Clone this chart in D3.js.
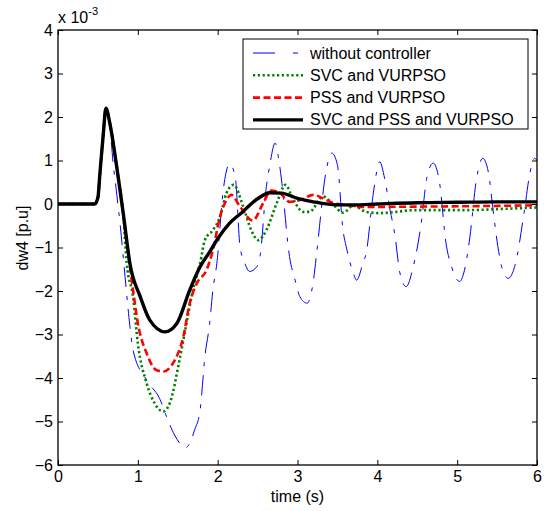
<!DOCTYPE html>
<html>
<head>
<meta charset="utf-8">
<script src="https://cdn.jsdelivr.net/npm/d3@7"></script>
<style>
  body { margin: 0; background: #fff; }
  svg { display: block; font-family: "Liberation Sans", Arial, sans-serif; }
</style>
</head>
<body>
<svg id="chart" width="545" height="511"></svg>
<script>
// tick values
var xTicks = [0, 1, 2, 3, 4, 5, 6];
var yTicks = [-6, -5, -4, -3, -2, -1, 0, 1, 2, 3, 4];

// without controller (values in 1e-3 p.u.)
var tNone = [0, 0.46, 0.5, 0.525, 0.567, 0.6, 0.65, 0.69, 0.73, 0.78, 0.84, 0.9, 0.94, 1.11, 1.28, 1.36, 1.46, 1.6, 1.65, 1.71, 1.78, 1.84, 1.9, 1.94, 1.99, 2.07, 2.15, 2.22, 2.28, 2.34, 2.4, 2.49, 2.53, 2.61, 2.65, 2.72, 2.76, 2.8, 2.9, 2.97, 3.03, 3.12, 3.2, 3.24, 3.36, 3.43, 3.5, 3.57, 3.61, 3.7, 3.74, 3.82, 3.86, 3.95, 4.03, 4.09, 4.16, 4.22, 4.28, 4.36, 4.45, 4.55, 4.62, 4.7, 4.78, 4.86, 4.93, 5.03, 5.11, 5.16, 5.24, 5.32, 5.39, 5.45, 5.51, 5.57, 5.64, 5.72, 5.84, 5.91, 5.97, 6.0];
var vNone = [0, 0, 0.15, 0.7, 1.6, 2.2, 1.8, 0.94, 0.32, -0.5, -1.67, -2.8, -3.36, -4.05, -4.5, -4.89, -5.31, -5.6, -5.5, -5.2, -4.74, -3.51, -2.74, -1.98, -1.36, 0.32, 0.92, 0.63, -0.98, -1.36, -1.55, -1.44, -1.21, 0.4, 0.86, 1.4, 1.09, 0.55, -1.21, -1.75, -2.13, -2.28, -1.75, -1.13, 0.78, 1.17, 0.9, -0.6, -0.98, -1.59, -1.75, -1.36, -1.13, 0.25, 0.97, 0.6, -0.14, -0.71, -1.56, -1.9, -1.44, -0.44, 0.6, 0.94, 0.48, -0.9, -1.44, -1.78, -1.36, -0.75, 0.55, 1.05, 0.74, -0.14, -0.98, -1.52, -1.71, -1.44, -0.18, 0.7, 1.05, 1.0];

// SVC and VURPSO
var tSvc = [0, 0.46, 0.5, 0.525, 0.567, 0.6, 0.65, 0.735, 0.82, 0.86, 0.94, 1.0, 1.11, 1.21, 1.32, 1.4, 1.53, 1.61, 1.69, 1.78, 1.84, 1.94, 2.03, 2.11, 2.2, 2.32, 2.42, 2.51, 2.61, 2.74, 2.85, 2.94, 3.07, 3.15, 3.32, 3.45, 3.57, 3.7, 3.86, 4.03, 4.49, 5.11, 5.6, 6.0];
var vSvc = [0, 0, 0.15, 0.7, 1.6, 2.2, 1.85, 0.86, -0.3, -1.36, -2.13, -3.2, -4.12, -4.58, -4.77, -4.58, -3.51, -2.74, -1.98, -1.36, -0.83, -0.6, -0.29, 0.25, 0.44, -0.06, -0.6, -0.83, -0.6, 0.02, 0.44, 0.13, -0.18, -0.18, 0.17, -0.02, -0.2, -0.04, -0.18, -0.21, -0.14, -0.14, -0.11, -0.08];

// PSS and VURPSO
var tPss = [0, 0.46, 0.5, 0.525, 0.567, 0.6, 0.65, 0.735, 0.82, 0.94, 1.0, 1.11, 1.235, 1.32, 1.44, 1.57, 1.65, 1.74, 1.86, 1.94, 2.03, 2.11, 2.17, 2.28, 2.44, 2.57, 2.67, 2.78, 2.9, 3.03, 3.2, 3.32, 3.45, 3.61, 3.8, 4.5, 5.2, 6.0];
var vPss = [0, 0, 0.15, 0.7, 1.6, 2.2, 1.85, 0.86, -0.28, -1.98, -2.74, -3.43, -3.82, -3.85, -3.66, -3.05, -2.28, -1.82, -1.52, -1.06, -0.29, 0.09, 0.21, -0.06, -0.38, 0.02, 0.31, 0.25, 0.05, 0.09, 0.21, 0.13, 0.02, -0.02, -0.07, -0.06, -0.05, -0.03];

// SVC and PSS and VURPSO
var tAll = [0, 0.46, 0.5, 0.525, 0.567, 0.6, 0.65, 0.735, 0.82, 0.9, 1.03, 1.15, 1.34, 1.49, 1.65, 1.78, 1.9, 2.0, 2.15, 2.3, 2.5, 2.65, 2.8, 3.0, 3.2, 3.5, 3.7, 4.0, 4.5, 5.0, 5.5, 6.0];
var vAll = [0, 0, 0.15, 0.7, 1.6, 2.2, 1.85, 0.86, -0.25, -1.36, -2.13, -2.67, -2.94, -2.74, -1.98, -1.44, -1.1, -0.8, -0.44, -0.2, 0.12, 0.26, 0.25, 0.13, 0.05, -0.02, -0.02, 0.0, 0.03, 0.04, 0.05, 0.05];

var legendNames = ['without controller', 'SVC and VURPSO', 'PSS and VURPSO', 'SVC and PSS and VURPSO'];

var series = [
  {name: legendNames[0], t: tNone, v: vNone, color: '#0000ff', width: 1, dash: '20,9,4,9', legendDash: '22,18,5,30'},
  {name: legendNames[1], t: tSvc, v: vSvc, color: '#008000', width: 2.6, dash: '2.2,2.6'},
  {name: legendNames[2], t: tPss, v: vPss, color: '#ff0000', width: 2.6, dash: '7,3.5'},
  {name: legendNames[3], t: tAll, v: vAll, color: '#000000', width: 3.4, dash: null}
];

var svg = d3.select('#chart');
var pLeft = 58, pRight = 537, pTop = 30, pBottom = 465;

var x = d3.scaleLinear().domain([0, 6]).range([pLeft, pRight]);
var y = d3.scaleLinear().domain([-6, 4]).range([pBottom, pTop]);

svg.append('defs').append('clipPath').attr('id', 'clip')
  .append('rect').attr('x', pLeft).attr('y', pTop).attr('width', pRight - pLeft).attr('height', pBottom - pTop);

// curves
var line = d3.line().x(function(d){ return x(d[0]); }).y(function(d){ return y(d[1]); }).curve(d3.curveMonotoneX);
var plot = svg.append('g').attr('clip-path', 'url(#clip)');
series.forEach(function(s){
  var pts = s.t.map(function(t, i){ return [t, s.v[i]]; });
  plot.append('path')
    .attr('d', line(pts))
    .attr('fill', 'none')
    .attr('stroke', s.color)
    .attr('stroke-width', s.width)
    .attr('stroke-dasharray', s.dash)
    .attr('stroke-linejoin', 'round');
});

// axes (ticks inside, box on)
var fs = '16px';
function styleText(g){
  g.select('.domain').remove();
  g.selectAll('text').attr('font-size', fs).attr('font-family', null).attr('fill', '#000');
  g.selectAll('line').attr('stroke', '#000');
}
svg.append('g').attr('transform', 'translate(0,' + pBottom + ')')
  .call(d3.axisBottom(x).tickValues(xTicks).tickSizeInner(-5).tickSizeOuter(0).tickPadding(6).tickFormat(d3.format('d')))
  .call(styleText);
svg.append('g').attr('transform', 'translate(0,' + pTop + ')')
  .call(d3.axisTop(x).tickValues(xTicks).tickSizeInner(-5).tickSizeOuter(0).tickFormat(''))
  .call(styleText);
svg.append('g').attr('transform', 'translate(' + pLeft + ',0)')
  .call(d3.axisLeft(y).tickValues(yTicks).tickSizeInner(-5).tickSizeOuter(0).tickPadding(5).tickFormat(d3.format('d')))
  .call(styleText);
svg.append('g').attr('transform', 'translate(' + pRight + ',0)')
  .call(d3.axisRight(y).tickValues(yTicks).tickSizeInner(-5).tickSizeOuter(0).tickFormat(''))
  .call(styleText);

svg.append('rect')
  .attr('x', pLeft).attr('y', pTop).attr('width', pRight - pLeft).attr('height', pBottom - pTop)
  .attr('fill', 'none').attr('stroke', '#000').attr('stroke-width', 1.3);

// exponent label
var ex = svg.append('text').attr('x', pLeft).attr('y', 23).attr('font-size', '16px');
ex.append('tspan').text('x 10');
ex.append('tspan').attr('dy', -8).attr('font-size', '11px').text('-3');

// axis titles
svg.append('text').attr('x', (pLeft + pRight) / 2).attr('y', 502)
  .attr('text-anchor', 'middle').attr('font-size', fs).text('time (s)');
svg.append('text').attr('transform', 'translate(28,238) rotate(-90)')
  .attr('text-anchor', 'middle').attr('font-size', fs).text('dw4 [p.u]');

// legend
var lg = svg.append('g').attr('transform', 'translate(243,39)');
lg.append('rect').attr('width', 285).attr('height', 90)
  .attr('fill', '#fff').attr('stroke', '#000').attr('stroke-width', 1);
series.forEach(function(s, i){
  var yy = 14 + i * 22.3;
  lg.append('line').attr('x1', 10).attr('x2', 60).attr('y1', yy).attr('y2', yy)
    .attr('stroke', s.color).attr('stroke-width', s.width)
    .attr('stroke-dasharray', s.legendDash || s.dash);
  lg.append('text').attr('x', 67).attr('y', yy + 5.5).attr('font-size', fs).text(s.name);
});
</script>
</body>
</html>
